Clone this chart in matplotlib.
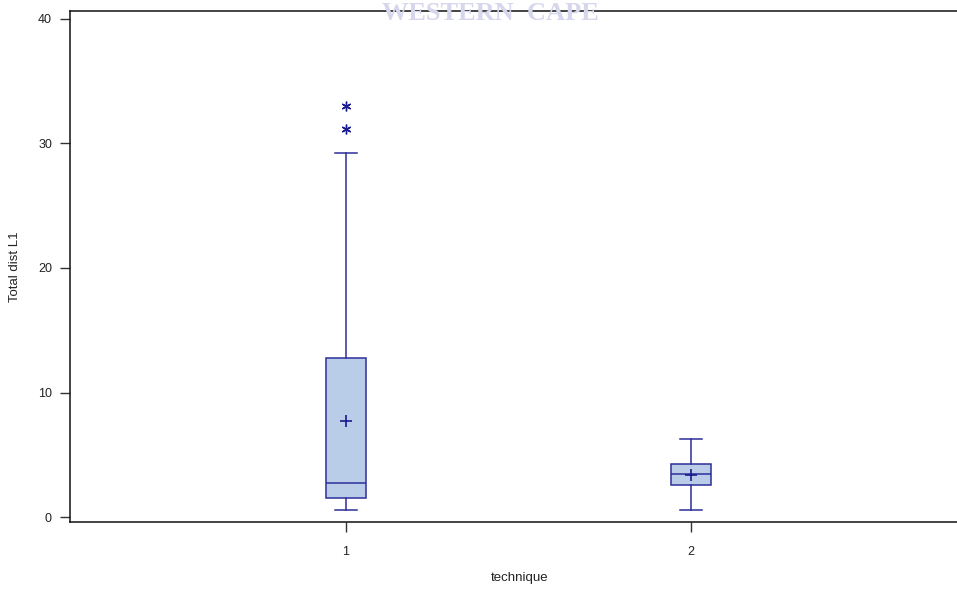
import matplotlib
matplotlib.use("Agg")
import matplotlib.pyplot as plt

# Summary statistics of "Total dist L1" per technique
techniques = ["1", "2"]
q1 = [1.53, 2.55]
medians = [2.73, 3.48]
q3 = [12.77, 4.28]
means = [7.7, 3.37]
whisker_low = [0.56, 0.56]
whisker_high = [29.2, 6.27]
outliers = [[31.2, 33.0], []]

edge = "#2e2e9a"
fill = "#b9cde9"

plt.rcParams["font.family"] = ["Liberation Sans", "DejaVu Sans"]

fig = plt.figure(figsize=(9.57, 5.93), dpi=100)

# faint watermark along the top edge, drawn beneath the axes frame
fig.text(490 / 957, 1 - 20 / 593, "WESTERN  CAPE", ha="center", va="baseline",
         fontsize=19, fontweight="bold", family="Liberation Serif",
         color="#d6d6ec", zorder=0)

ax = fig.add_axes([70 / 957, 1 - 522 / 593, 900 / 957, 511 / 593])
ax.patch.set_alpha(0)

stats = []
for i in range(len(techniques)):
    stats.append(dict(label=techniques[i], q1=q1[i], med=medians[i], q3=q3[i],
                      mean=means[i], whislo=whisker_low[i], whishi=whisker_high[i],
                      fliers=outliers[i]))

ax.bxp(stats, positions=[1, 2], widths=0.115, capwidths=0.062, showmeans=True,
       patch_artist=True,
       boxprops=dict(facecolor=fill, edgecolor=edge, linewidth=1.1),
       medianprops=dict(color=edge, linewidth=1.1),
       whiskerprops=dict(color=edge, linewidth=1.1),
       capprops=dict(color=edge, linewidth=1.1),
       meanprops=dict(marker="+", markeredgecolor="#1a1a90", markersize=8,
                      markeredgewidth=1.2),
       flierprops=dict(marker=(6, 2, 0), markeredgecolor="#1a1a90",
                       markersize=7, markeredgewidth=1.0, linestyle="none"))

ax.set_xlim(0.2, 0.2 + 900 / 345)
ax.set_ylim(-0.4, 40.64)
ax.set_yticks([0, 10, 20, 30, 40])
ax.set_xticks([1, 2])
ax.set_xticklabels(techniques)
ax.tick_params(axis="both", direction="out", length=7, width=1, color="#333333",
               labelsize=9, labelcolor="#222222", pad=6)
ax.tick_params(axis="x", pad=10)
for side in ["left", "bottom", "top"]:
    ax.spines[side].set_linewidth(1.1)
    ax.spines[side].set_color("#111111")
ax.spines["right"].set_visible(False)

ax.set_xlabel("technique", fontsize=9.5, color="#222222", labelpad=10)
ax.set_ylabel("Total dist L1", fontsize=9.5, color="#222222", labelpad=12)

fig.savefig("out.png", dpi=100, facecolor="white")
